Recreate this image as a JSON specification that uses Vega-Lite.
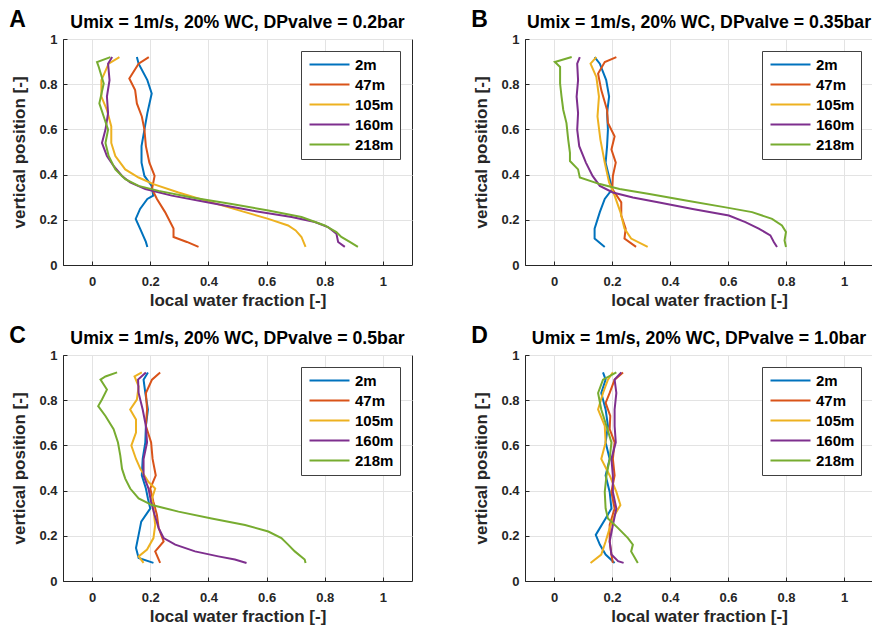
{
  "$schema": "https://vega.github.io/schema/vega-lite/v6.json",
  "background": "white",
  "padding": {"left": 8, "top": 8, "right": 0, "bottom": 5},
  "config": {
    "font": "Liberation Sans",
    "view": {"stroke": "#262626", "strokeWidth": 1},
    "axis": {
      "labelFont": "Liberation Sans", "labelFontWeight": "bold", "labelFontSize": 13, "labelColor": "#262626",
      "titleFont": "Liberation Sans", "titleFontWeight": "bold", "titleFontSize": 17, "titleColor": "#262626",
      "domainColor": "#262626", "tickColor": "#262626", "gridColor": "#e3e3e3", "tickSize": -4
    },
    "axisX": {"labelPadding": 14, "titlePadding": 4},
    "axisY": {"labelPadding": 10, "titlePadding": 10},
    "title": {"font": "Liberation Sans", "fontSize": 17.7, "fontWeight": "bold", "color": "#000000", "offset": -23},
    "legend": {
      "orient": "top-right", "offset": 12, "fillColor": "white", "strokeColor": "#404040", "padding": 6,
      "symbolType": "M-1,0H7", "symbolStrokeWidth": 2.2, "symbolSize": 100, "labelFont": "Liberation Sans",
      "labelFontSize": 15, "labelFontWeight": "bold", "labelColor": "#000000", "labelOffset": 33, "rowPadding": 4
    }
  },
  "datasets": {
    "d": [
      {"p":"A","s":"2m","y":0.92,"x":0.154},{"p":"A","s":"2m","y":0.891,"x":0.16},{"p":"A","s":"2m","y":0.818,"x":0.19},{"p":"A","s":"2m","y":0.759,"x":0.205},{"p":"A","s":"2m","y":0.672,"x":0.19},{"p":"A","s":"2m","y":0.599,"x":0.18},{"p":"A","s":"2m","y":0.526,"x":0.17},{"p":"A","s":"2m","y":0.453,"x":0.17},{"p":"A","s":"2m","y":0.394,"x":0.18},{"p":"A","s":"2m","y":0.35,"x":0.205},{"p":"A","s":"2m","y":0.307,"x":0.21},{"p":"A","s":"2m","y":0.292,"x":0.19},{"p":"A","s":"2m","y":0.248,"x":0.165},{"p":"A","s":"2m","y":0.204,"x":0.15},{"p":"A","s":"2m","y":0.161,"x":0.165},{"p":"A","s":"2m","y":0.102,"x":0.185},{"p":"A","s":"2m","y":0.08,"x":0.19},
      {"p":"A","s":"47m","y":0.92,"x":0.195},{"p":"A","s":"47m","y":0.891,"x":0.16},{"p":"A","s":"47m","y":0.825,"x":0.128},{"p":"A","s":"47m","y":0.774,"x":0.148},{"p":"A","s":"47m","y":0.715,"x":0.154},{"p":"A","s":"47m","y":0.657,"x":0.171},{"p":"A","s":"47m","y":0.599,"x":0.18},{"p":"A","s":"47m","y":0.526,"x":0.185},{"p":"A","s":"47m","y":0.453,"x":0.197},{"p":"A","s":"47m","y":0.394,"x":0.215},{"p":"A","s":"47m","y":0.336,"x":0.206},{"p":"A","s":"47m","y":0.292,"x":0.223},{"p":"A","s":"47m","y":0.234,"x":0.251},{"p":"A","s":"47m","y":0.161,"x":0.28},{"p":"A","s":"47m","y":0.124,"x":0.28},{"p":"A","s":"47m","y":0.102,"x":0.326},{"p":"A","s":"47m","y":0.08,"x":0.366},
      {"p":"A","s":"105m","y":0.92,"x":0.094},{"p":"A","s":"105m","y":0.891,"x":0.057},{"p":"A","s":"105m","y":0.818,"x":0.032},{"p":"A","s":"105m","y":0.745,"x":0.032},{"p":"A","s":"105m","y":0.686,"x":0.051},{"p":"A","s":"105m","y":0.613,"x":0.066},{"p":"A","s":"105m","y":0.54,"x":0.066},{"p":"A","s":"105m","y":0.482,"x":0.08},{"p":"A","s":"105m","y":0.423,"x":0.114},{"p":"A","s":"105m","y":0.387,"x":0.16},{"p":"A","s":"105m","y":0.358,"x":0.211},{"p":"A","s":"105m","y":0.321,"x":0.297},{"p":"A","s":"105m","y":0.277,"x":0.411},{"p":"A","s":"105m","y":0.234,"x":0.526},{"p":"A","s":"105m","y":0.204,"x":0.606},{"p":"A","s":"105m","y":0.175,"x":0.674},{"p":"A","s":"105m","y":0.153,"x":0.7},{"p":"A","s":"105m","y":0.124,"x":0.72},{"p":"A","s":"105m","y":0.08,"x":0.734},
      {"p":"A","s":"160m","y":0.92,"x":0.069},{"p":"A","s":"160m","y":0.891,"x":0.055},{"p":"A","s":"160m","y":0.818,"x":0.06},{"p":"A","s":"160m","y":0.745,"x":0.051},{"p":"A","s":"160m","y":0.672,"x":0.055},{"p":"A","s":"160m","y":0.599,"x":0.046},{"p":"A","s":"160m","y":0.54,"x":0.034},{"p":"A","s":"160m","y":0.482,"x":0.051},{"p":"A","s":"160m","y":0.438,"x":0.074},{"p":"A","s":"160m","y":0.394,"x":0.103},{"p":"A","s":"160m","y":0.365,"x":0.131},{"p":"A","s":"160m","y":0.336,"x":0.183},{"p":"A","s":"160m","y":0.307,"x":0.274},{"p":"A","s":"160m","y":0.277,"x":0.4},{"p":"A","s":"160m","y":0.241,"x":0.549},{"p":"A","s":"160m","y":0.212,"x":0.686},{"p":"A","s":"160m","y":0.19,"x":0.766},{"p":"A","s":"160m","y":0.168,"x":0.811},{"p":"A","s":"160m","y":0.139,"x":0.84},{"p":"A","s":"160m","y":0.102,"x":0.846},{"p":"A","s":"160m","y":0.08,"x":0.869},
      {"p":"A","s":"218m","y":0.92,"x":0.063},{"p":"A","s":"218m","y":0.898,"x":0.017},{"p":"A","s":"218m","y":0.876,"x":0.023},{"p":"A","s":"218m","y":0.803,"x":0.04},{"p":"A","s":"218m","y":0.715,"x":0.025},{"p":"A","s":"218m","y":0.657,"x":0.04},{"p":"A","s":"218m","y":0.599,"x":0.055},{"p":"A","s":"218m","y":0.54,"x":0.046},{"p":"A","s":"218m","y":0.482,"x":0.057},{"p":"A","s":"218m","y":0.423,"x":0.08},{"p":"A","s":"218m","y":0.38,"x":0.114},{"p":"A","s":"218m","y":0.35,"x":0.16},{"p":"A","s":"218m","y":0.328,"x":0.229},{"p":"A","s":"218m","y":0.299,"x":0.343},{"p":"A","s":"218m","y":0.27,"x":0.48},{"p":"A","s":"218m","y":0.241,"x":0.606},{"p":"A","s":"218m","y":0.212,"x":0.72},{"p":"A","s":"218m","y":0.175,"x":0.8},{"p":"A","s":"218m","y":0.146,"x":0.84},{"p":"A","s":"218m","y":0.124,"x":0.857},{"p":"A","s":"218m","y":0.102,"x":0.886},{"p":"A","s":"218m","y":0.08,"x":0.914},
      {"p":"B","s":"2m","y":0.92,"x":0.14},{"p":"B","s":"2m","y":0.891,"x":0.158},{"p":"B","s":"2m","y":0.818,"x":0.18},{"p":"B","s":"2m","y":0.745,"x":0.19},{"p":"B","s":"2m","y":0.672,"x":0.183},{"p":"B","s":"2m","y":0.599,"x":0.186},{"p":"B","s":"2m","y":0.526,"x":0.183},{"p":"B","s":"2m","y":0.453,"x":0.178},{"p":"B","s":"2m","y":0.38,"x":0.192},{"p":"B","s":"2m","y":0.336,"x":0.201},{"p":"B","s":"2m","y":0.292,"x":0.175},{"p":"B","s":"2m","y":0.234,"x":0.158},{"p":"B","s":"2m","y":0.161,"x":0.14},{"p":"B","s":"2m","y":0.117,"x":0.14},{"p":"B","s":"2m","y":0.08,"x":0.175},
      {"p":"B","s":"47m","y":0.92,"x":0.215},{"p":"B","s":"47m","y":0.898,"x":0.175},{"p":"B","s":"47m","y":0.847,"x":0.152},{"p":"B","s":"47m","y":0.774,"x":0.163},{"p":"B","s":"47m","y":0.686,"x":0.183},{"p":"B","s":"47m","y":0.628,"x":0.186},{"p":"B","s":"47m","y":0.569,"x":0.209},{"p":"B","s":"47m","y":0.511,"x":0.198},{"p":"B","s":"47m","y":0.453,"x":0.213},{"p":"B","s":"47m","y":0.394,"x":0.203},{"p":"B","s":"47m","y":0.336,"x":0.201},{"p":"B","s":"47m","y":0.277,"x":0.232},{"p":"B","s":"47m","y":0.219,"x":0.232},{"p":"B","s":"47m","y":0.161,"x":0.247},{"p":"B","s":"47m","y":0.117,"x":0.243},{"p":"B","s":"47m","y":0.08,"x":0.283},
      {"p":"B","s":"105m","y":0.92,"x":0.146},{"p":"B","s":"105m","y":0.891,"x":0.126},{"p":"B","s":"105m","y":0.832,"x":0.146},{"p":"B","s":"105m","y":0.745,"x":0.155},{"p":"B","s":"105m","y":0.657,"x":0.15},{"p":"B","s":"105m","y":0.555,"x":0.16},{"p":"B","s":"105m","y":0.453,"x":0.175},{"p":"B","s":"105m","y":0.365,"x":0.19},{"p":"B","s":"105m","y":0.307,"x":0.209},{"p":"B","s":"105m","y":0.234,"x":0.229},{"p":"B","s":"105m","y":0.161,"x":0.243},{"p":"B","s":"105m","y":0.117,"x":0.266},{"p":"B","s":"105m","y":0.08,"x":0.323},
      {"p":"B","s":"160m","y":0.92,"x":0.089},{"p":"B","s":"160m","y":0.891,"x":0.08},{"p":"B","s":"160m","y":0.818,"x":0.083},{"p":"B","s":"160m","y":0.745,"x":0.078},{"p":"B","s":"160m","y":0.672,"x":0.083},{"p":"B","s":"160m","y":0.599,"x":0.08},{"p":"B","s":"160m","y":0.526,"x":0.087},{"p":"B","s":"160m","y":0.453,"x":0.11},{"p":"B","s":"160m","y":0.394,"x":0.133},{"p":"B","s":"160m","y":0.35,"x":0.158},{"p":"B","s":"160m","y":0.321,"x":0.203},{"p":"B","s":"160m","y":0.299,"x":0.272},{"p":"B","s":"160m","y":0.277,"x":0.363},{"p":"B","s":"160m","y":0.248,"x":0.478},{"p":"B","s":"160m","y":0.219,"x":0.603},{"p":"B","s":"160m","y":0.19,"x":0.66},{"p":"B","s":"160m","y":0.161,"x":0.706},{"p":"B","s":"160m","y":0.131,"x":0.746},{"p":"B","s":"160m","y":0.102,"x":0.758},{"p":"B","s":"160m","y":0.08,"x":0.769},
      {"p":"B","s":"218m","y":0.92,"x":0.061},{"p":"B","s":"218m","y":0.898,"x":0.003},{"p":"B","s":"218m","y":0.876,"x":0.021},{"p":"B","s":"218m","y":0.803,"x":0.021},{"p":"B","s":"218m","y":0.745,"x":0.026},{"p":"B","s":"218m","y":0.686,"x":0.032},{"p":"B","s":"218m","y":0.628,"x":0.043},{"p":"B","s":"218m","y":0.555,"x":0.049},{"p":"B","s":"218m","y":0.496,"x":0.055},{"p":"B","s":"218m","y":0.46,"x":0.055},{"p":"B","s":"218m","y":0.423,"x":0.083},{"p":"B","s":"218m","y":0.387,"x":0.089},{"p":"B","s":"218m","y":0.358,"x":0.158},{"p":"B","s":"218m","y":0.336,"x":0.226},{"p":"B","s":"218m","y":0.314,"x":0.329},{"p":"B","s":"218m","y":0.285,"x":0.455},{"p":"B","s":"218m","y":0.255,"x":0.592},{"p":"B","s":"218m","y":0.234,"x":0.683},{"p":"B","s":"218m","y":0.204,"x":0.752},{"p":"B","s":"218m","y":0.175,"x":0.786},{"p":"B","s":"218m","y":0.146,"x":0.8},{"p":"B","s":"218m","y":0.109,"x":0.795},{"p":"B","s":"218m","y":0.08,"x":0.8},
      {"p":"C","s":"2m","y":0.923,"x":0.192},{"p":"C","s":"2m","y":0.891,"x":0.177},{"p":"C","s":"2m","y":0.832,"x":0.183},{"p":"C","s":"2m","y":0.759,"x":0.192},{"p":"C","s":"2m","y":0.686,"x":0.185},{"p":"C","s":"2m","y":0.613,"x":0.183},{"p":"C","s":"2m","y":0.54,"x":0.174},{"p":"C","s":"2m","y":0.467,"x":0.171},{"p":"C","s":"2m","y":0.409,"x":0.185},{"p":"C","s":"2m","y":0.365,"x":0.192},{"p":"C","s":"2m","y":0.321,"x":0.2},{"p":"C","s":"2m","y":0.263,"x":0.169},{"p":"C","s":"2m","y":0.204,"x":0.16},{"p":"C","s":"2m","y":0.146,"x":0.151},{"p":"C","s":"2m","y":0.102,"x":0.16},{"p":"C","s":"2m","y":0.08,"x":0.211},
      {"p":"C","s":"47m","y":0.923,"x":0.234},{"p":"C","s":"47m","y":0.891,"x":0.206},{"p":"C","s":"47m","y":0.832,"x":0.185},{"p":"C","s":"47m","y":0.759,"x":0.189},{"p":"C","s":"47m","y":0.686,"x":0.185},{"p":"C","s":"47m","y":0.613,"x":0.203},{"p":"C","s":"47m","y":0.54,"x":0.208},{"p":"C","s":"47m","y":0.467,"x":0.219},{"p":"C","s":"47m","y":0.409,"x":0.2},{"p":"C","s":"47m","y":0.35,"x":0.211},{"p":"C","s":"47m","y":0.292,"x":0.223},{"p":"C","s":"47m","y":0.234,"x":0.229},{"p":"C","s":"47m","y":0.175,"x":0.246},{"p":"C","s":"47m","y":0.131,"x":0.217},{"p":"C","s":"47m","y":0.08,"x":0.234},
      {"p":"C","s":"105m","y":0.923,"x":0.171},{"p":"C","s":"105m","y":0.905,"x":0.146},{"p":"C","s":"105m","y":0.861,"x":0.16},{"p":"C","s":"105m","y":0.803,"x":0.154},{"p":"C","s":"105m","y":0.759,"x":0.131},{"p":"C","s":"105m","y":0.715,"x":0.151},{"p":"C","s":"105m","y":0.657,"x":0.151},{"p":"C","s":"105m","y":0.599,"x":0.135},{"p":"C","s":"105m","y":0.54,"x":0.151},{"p":"C","s":"105m","y":0.496,"x":0.166},{"p":"C","s":"105m","y":0.438,"x":0.194},{"p":"C","s":"105m","y":0.409,"x":0.217},{"p":"C","s":"105m","y":0.365,"x":0.206},{"p":"C","s":"105m","y":0.321,"x":0.211},{"p":"C","s":"105m","y":0.248,"x":0.217},{"p":"C","s":"105m","y":0.19,"x":0.211},{"p":"C","s":"105m","y":0.139,"x":0.189},{"p":"C","s":"105m","y":0.109,"x":0.16},{"p":"C","s":"105m","y":0.08,"x":0.177},
      {"p":"C","s":"160m","y":0.923,"x":0.185},{"p":"C","s":"160m","y":0.891,"x":0.158},{"p":"C","s":"160m","y":0.832,"x":0.16},{"p":"C","s":"160m","y":0.759,"x":0.174},{"p":"C","s":"160m","y":0.686,"x":0.185},{"p":"C","s":"160m","y":0.613,"x":0.189},{"p":"C","s":"160m","y":0.54,"x":0.177},{"p":"C","s":"160m","y":0.467,"x":0.177},{"p":"C","s":"160m","y":0.409,"x":0.194},{"p":"C","s":"160m","y":0.35,"x":0.203},{"p":"C","s":"160m","y":0.292,"x":0.215},{"p":"C","s":"160m","y":0.234,"x":0.229},{"p":"C","s":"160m","y":0.19,"x":0.246},{"p":"C","s":"160m","y":0.161,"x":0.286},{"p":"C","s":"160m","y":0.131,"x":0.354},{"p":"C","s":"160m","y":0.109,"x":0.434},{"p":"C","s":"160m","y":0.095,"x":0.491},{"p":"C","s":"160m","y":0.08,"x":0.531},
      {"p":"C","s":"218m","y":0.923,"x":0.086},{"p":"C","s":"218m","y":0.905,"x":0.046},{"p":"C","s":"218m","y":0.891,"x":0.029},{"p":"C","s":"218m","y":0.847,"x":0.051},{"p":"C","s":"218m","y":0.803,"x":0.034},{"p":"C","s":"218m","y":0.774,"x":0.021},{"p":"C","s":"218m","y":0.73,"x":0.046},{"p":"C","s":"218m","y":0.672,"x":0.074},{"p":"C","s":"218m","y":0.613,"x":0.089},{"p":"C","s":"218m","y":0.555,"x":0.097},{"p":"C","s":"218m","y":0.496,"x":0.103},{"p":"C","s":"218m","y":0.453,"x":0.114},{"p":"C","s":"218m","y":0.409,"x":0.131},{"p":"C","s":"218m","y":0.365,"x":0.16},{"p":"C","s":"218m","y":0.336,"x":0.206},{"p":"C","s":"218m","y":0.307,"x":0.297},{"p":"C","s":"218m","y":0.277,"x":0.411},{"p":"C","s":"218m","y":0.248,"x":0.526},{"p":"C","s":"218m","y":0.219,"x":0.606},{"p":"C","s":"218m","y":0.19,"x":0.651},{"p":"C","s":"218m","y":0.161,"x":0.674},{"p":"C","s":"218m","y":0.131,"x":0.697},{"p":"C","s":"218m","y":0.095,"x":0.731},{"p":"C","s":"218m","y":0.08,"x":0.734},
      {"p":"D","s":"2m","y":0.923,"x":0.169},{"p":"D","s":"2m","y":0.891,"x":0.178},{"p":"D","s":"2m","y":0.832,"x":0.163},{"p":"D","s":"2m","y":0.759,"x":0.178},{"p":"D","s":"2m","y":0.686,"x":0.186},{"p":"D","s":"2m","y":0.613,"x":0.178},{"p":"D","s":"2m","y":0.54,"x":0.192},{"p":"D","s":"2m","y":0.467,"x":0.178},{"p":"D","s":"2m","y":0.394,"x":0.192},{"p":"D","s":"2m","y":0.321,"x":0.198},{"p":"D","s":"2m","y":0.277,"x":0.178},{"p":"D","s":"2m","y":0.234,"x":0.158},{"p":"D","s":"2m","y":0.204,"x":0.144},{"p":"D","s":"2m","y":0.161,"x":0.158},{"p":"D","s":"2m","y":0.117,"x":0.178},{"p":"D","s":"2m","y":0.08,"x":0.209},
      {"p":"D","s":"47m","y":0.923,"x":0.238},{"p":"D","s":"47m","y":0.891,"x":0.209},{"p":"D","s":"47m","y":0.832,"x":0.192},{"p":"D","s":"47m","y":0.788,"x":0.178},{"p":"D","s":"47m","y":0.73,"x":0.194},{"p":"D","s":"47m","y":0.672,"x":0.192},{"p":"D","s":"47m","y":0.613,"x":0.209},{"p":"D","s":"47m","y":0.54,"x":0.203},{"p":"D","s":"47m","y":0.467,"x":0.209},{"p":"D","s":"47m","y":0.394,"x":0.198},{"p":"D","s":"47m","y":0.321,"x":0.209},{"p":"D","s":"47m","y":0.248,"x":0.192},{"p":"D","s":"47m","y":0.175,"x":0.192},{"p":"D","s":"47m","y":0.117,"x":0.198},{"p":"D","s":"47m","y":0.08,"x":0.203},
      {"p":"D","s":"105m","y":0.923,"x":0.203},{"p":"D","s":"105m","y":0.891,"x":0.186},{"p":"D","s":"105m","y":0.832,"x":0.169},{"p":"D","s":"105m","y":0.759,"x":0.152},{"p":"D","s":"105m","y":0.686,"x":0.175},{"p":"D","s":"105m","y":0.613,"x":0.178},{"p":"D","s":"105m","y":0.54,"x":0.163},{"p":"D","s":"105m","y":0.467,"x":0.192},{"p":"D","s":"105m","y":0.394,"x":0.215},{"p":"D","s":"105m","y":0.336,"x":0.229},{"p":"D","s":"105m","y":0.292,"x":0.209},{"p":"D","s":"105m","y":0.234,"x":0.192},{"p":"D","s":"105m","y":0.175,"x":0.178},{"p":"D","s":"105m","y":0.117,"x":0.163},{"p":"D","s":"105m","y":0.08,"x":0.126},
      {"p":"D","s":"160m","y":0.923,"x":0.232},{"p":"D","s":"160m","y":0.891,"x":0.209},{"p":"D","s":"160m","y":0.832,"x":0.215},{"p":"D","s":"160m","y":0.759,"x":0.209},{"p":"D","s":"160m","y":0.686,"x":0.209},{"p":"D","s":"160m","y":0.613,"x":0.213},{"p":"D","s":"160m","y":0.54,"x":0.198},{"p":"D","s":"160m","y":0.467,"x":0.203},{"p":"D","s":"160m","y":0.394,"x":0.203},{"p":"D","s":"160m","y":0.321,"x":0.215},{"p":"D","s":"160m","y":0.248,"x":0.203},{"p":"D","s":"160m","y":0.175,"x":0.192},{"p":"D","s":"160m","y":0.117,"x":0.198},{"p":"D","s":"160m","y":0.088,"x":0.221},{"p":"D","s":"160m","y":0.08,"x":0.24},
      {"p":"D","s":"218m","y":0.923,"x":0.215},{"p":"D","s":"218m","y":0.891,"x":0.169},{"p":"D","s":"218m","y":0.832,"x":0.152},{"p":"D","s":"218m","y":0.759,"x":0.163},{"p":"D","s":"218m","y":0.686,"x":0.181},{"p":"D","s":"218m","y":0.613,"x":0.198},{"p":"D","s":"218m","y":0.54,"x":0.192},{"p":"D","s":"218m","y":0.467,"x":0.181},{"p":"D","s":"218m","y":0.394,"x":0.175},{"p":"D","s":"218m","y":0.321,"x":0.178},{"p":"D","s":"218m","y":0.277,"x":0.186},{"p":"D","s":"218m","y":0.234,"x":0.221},{"p":"D","s":"218m","y":0.19,"x":0.255},{"p":"D","s":"218m","y":0.161,"x":0.272},{"p":"D","s":"218m","y":0.131,"x":0.266},{"p":"D","s":"218m","y":0.08,"x":0.289}
    ]
  },
  "columns": 2,
  "bounds": "flush",
  "spacing": {"row": 90, "column": 113},
  "resolve": {"legend": {"color": "independent"}},
  "concat": [
    {
      "width": 349, "height": 226,
      "title": "Umix = 1m/s, 20% WC, DPvalve = 0.2bar",
      "layer": [
        {
          "data": {"name": "d"},
          "transform": [{"filter": "datum.p == 'A'"}],
          "mark": {"type": "line", "strokeWidth": 2},
          "encoding": {
            "x": {"field": "x", "type": "quantitative", "scale": {"domain": [-0.1, 1.1], "nice": false}, "axis": {"values": [0, 0.2, 0.4, 0.6, 0.8, 1], "format": "~g", "title": "local water fraction [-]"}},
            "y": {"field": "y", "type": "quantitative", "scale": {"domain": [0, 1], "nice": false}, "axis": {"values": [0, 0.2, 0.4, 0.6, 0.8, 1], "format": "~g", "title": "vertical position [-]"}},
            "color": {"field": "s", "type": "nominal", "scale": {"domain": ["2m", "47m", "105m", "160m", "218m"], "range": ["#0072BD", "#D95319", "#EDB120", "#7E2F8E", "#77AC30"]}, "legend": {"title": null}},
            "order": {"field": "y", "type": "quantitative"}
          }
        },
        {
          "data": {"values": [{"lab": "A"}]},
          "mark": {"type": "text", "fontSize": 23, "fontWeight": "bold", "align": "left", "baseline": "middle", "font": "Liberation Sans"},
          "encoding": {"x": {"datum": -0.285}, "y": {"datum": 1.085}, "text": {"field": "lab"}}
        }
      ]
    },
    {
      "width": 348, "height": 226,
      "title": "Umix = 1m/s, 20% WC, DPvalve = 0.35bar",
      "layer": [
        {
          "data": {"name": "d"},
          "transform": [{"filter": "datum.p == 'B'"}],
          "mark": {"type": "line", "strokeWidth": 2},
          "encoding": {
            "x": {"field": "x", "type": "quantitative", "scale": {"domain": [-0.1, 1.1], "nice": false}, "axis": {"values": [0, 0.2, 0.4, 0.6, 0.8, 1], "format": "~g", "title": "local water fraction [-]"}},
            "y": {"field": "y", "type": "quantitative", "scale": {"domain": [0, 1], "nice": false}, "axis": {"values": [0, 0.2, 0.4, 0.6, 0.8, 1], "format": "~g", "title": "vertical position [-]"}},
            "color": {"field": "s", "type": "nominal", "scale": {"domain": ["2m", "47m", "105m", "160m", "218m"], "range": ["#0072BD", "#D95319", "#EDB120", "#7E2F8E", "#77AC30"]}, "legend": {"title": null}},
            "order": {"field": "y", "type": "quantitative"}
          }
        },
        {
          "data": {"values": [{"lab": "B"}]},
          "mark": {"type": "text", "fontSize": 23, "fontWeight": "bold", "align": "left", "baseline": "middle", "font": "Liberation Sans"},
          "encoding": {"x": {"datum": -0.285}, "y": {"datum": 1.085}, "text": {"field": "lab"}}
        }
      ]
    },
    {
      "width": 349, "height": 226,
      "title": "Umix = 1m/s, 20% WC, DPvalve = 0.5bar",
      "layer": [
        {
          "data": {"name": "d"},
          "transform": [{"filter": "datum.p == 'C'"}],
          "mark": {"type": "line", "strokeWidth": 2},
          "encoding": {
            "x": {"field": "x", "type": "quantitative", "scale": {"domain": [-0.1, 1.1], "nice": false}, "axis": {"values": [0, 0.2, 0.4, 0.6, 0.8, 1], "format": "~g", "title": "local water fraction [-]"}},
            "y": {"field": "y", "type": "quantitative", "scale": {"domain": [0, 1], "nice": false}, "axis": {"values": [0, 0.2, 0.4, 0.6, 0.8, 1], "format": "~g", "title": "vertical position [-]"}},
            "color": {"field": "s", "type": "nominal", "scale": {"domain": ["2m", "47m", "105m", "160m", "218m"], "range": ["#0072BD", "#D95319", "#EDB120", "#7E2F8E", "#77AC30"]}, "legend": {"title": null}},
            "order": {"field": "y", "type": "quantitative"}
          }
        },
        {
          "data": {"values": [{"lab": "C"}]},
          "mark": {"type": "text", "fontSize": 23, "fontWeight": "bold", "align": "left", "baseline": "middle", "font": "Liberation Sans"},
          "encoding": {"x": {"datum": -0.285}, "y": {"datum": 1.085}, "text": {"field": "lab"}}
        }
      ]
    },
    {
      "width": 348, "height": 226,
      "title": "Umix = 1m/s, 20% WC, DPvalve = 1.0bar",
      "layer": [
        {
          "data": {"name": "d"},
          "transform": [{"filter": "datum.p == 'D'"}],
          "mark": {"type": "line", "strokeWidth": 2},
          "encoding": {
            "x": {"field": "x", "type": "quantitative", "scale": {"domain": [-0.1, 1.1], "nice": false}, "axis": {"values": [0, 0.2, 0.4, 0.6, 0.8, 1], "format": "~g", "title": "local water fraction [-]"}},
            "y": {"field": "y", "type": "quantitative", "scale": {"domain": [0, 1], "nice": false}, "axis": {"values": [0, 0.2, 0.4, 0.6, 0.8, 1], "format": "~g", "title": "vertical position [-]"}},
            "color": {"field": "s", "type": "nominal", "scale": {"domain": ["2m", "47m", "105m", "160m", "218m"], "range": ["#0072BD", "#D95319", "#EDB120", "#7E2F8E", "#77AC30"]}, "legend": {"title": null}},
            "order": {"field": "y", "type": "quantitative"}
          }
        },
        {
          "data": {"values": [{"lab": "D"}]},
          "mark": {"type": "text", "fontSize": 23, "fontWeight": "bold", "align": "left", "baseline": "middle", "font": "Liberation Sans"},
          "encoding": {"x": {"datum": -0.285}, "y": {"datum": 1.085}, "text": {"field": "lab"}}
        }
      ]
    }
  ]
}
